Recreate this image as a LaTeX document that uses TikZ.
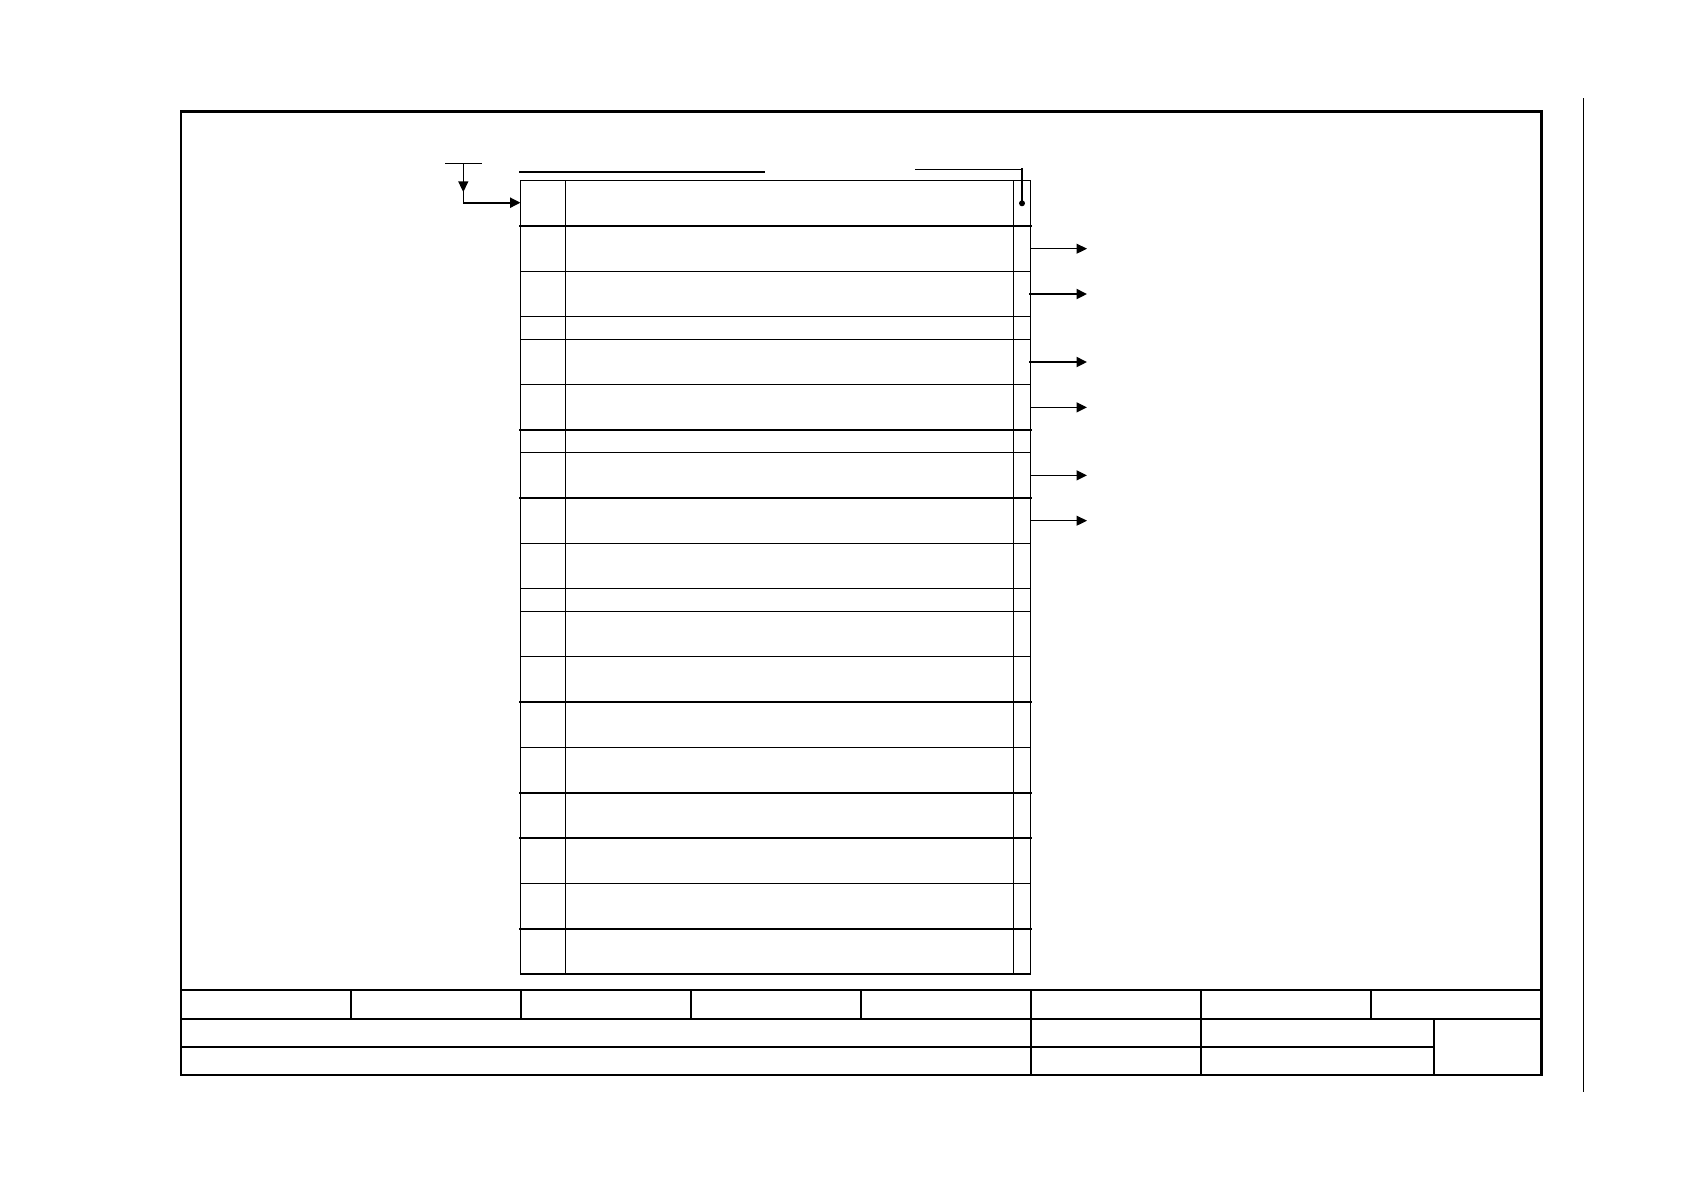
\documentclass[tikz,border=0pt]{standalone}
\usetikzlibrary{arrows.meta}
\begin{document}
\begin{tikzpicture}[x=1pt,y=-1pt,
  frameline/.style={line width=2.5pt},
  tbline/.style={line width=2pt},
  thinline/.style={line width=1.1pt},
  thickrow/.style={line width=2.3pt},
  arr/.style={-{Triangle[length=10.5pt,width=10pt]}},
  line cap=rect
]
\useasboundingbox (0,0) rectangle (1684,1190);
% outer frame and side line
\draw[frameline] (181,111.7) rectangle (1541.5,1075);
\draw[thinline] (1583.5,99) -- (1583.5,1091);
% title block
\draw[frameline] (181,990) -- (1541.5,990);
\draw[tbline] (181,1018.5) -- (1541.5,1018.5);
\draw[tbline] (181,1046.7) -- (1434.4,1046.7);
\foreach \x in {351,521,691,861,1031,1201,1371}
  \draw[tbline] (\x,990) -- (\x,1018.5);
\foreach \x in {1031,1201,1434.4}
  \draw[tbline] (\x,1018.5) -- (\x,1075);
% table
\coordinate (tl) at (520.5,180.7);
\coordinate (br) at (1030.4,974);
\foreach \u in {2,3,3.5,4.5,6,8,9,9.5,10.5,12.5,15.5}
  \draw[thinline] (520.5,{180.7+45.333*\u}) -- (1030.4,{180.7+45.333*\u});
\draw[thinline] (tl) rectangle (br);
\draw[thinline] (565.3,180.7) -- (565.3,974);
\draw[thinline] (1013.6,180.7) -- (1013.6,974);
\foreach \u in {1,5.5,7,11.5,13.5,14.5,16.5}
  \draw[thickrow] (520.5,{180.7+45.333*\u}) -- (1030.4,{180.7+45.333*\u});
% outgoing arrows
\foreach \u/\w in {1.5/1.1, 2.5/2.2, 4/2.2, 5/1.1, 6.5/1.1, 7.5/1.1}
  \draw[arr, line width=\w pt] (1030.4,{180.7+45.333*\u}) -- (1087,{180.7+45.333*\u});
% heading underline
\draw[thickrow] (520,172) -- (764,172);
% input at top-left
\coordinate (tbar) at (463.3,163.3);
\coordinate (elbow) at (463.3,202.7);
\draw[thinline] (446,163.3) -- (481,163.3);
\draw[thinline] (tbar) -- (elbow);
\draw[thinline, arr] (tbar) -- (463.3,192);
\draw[thickrow, arr, line cap=butt] (elbow) -- (520.5,202.7);
% top-right link with dot
\coordinate (dot) at (1022,203.3);
\draw[thinline] (916,169.3) -- (1022,169.3);
\draw[thickrow] (1022,169.3) -- (dot);
\fill (dot) circle (3);
\end{tikzpicture}
\end{document}
